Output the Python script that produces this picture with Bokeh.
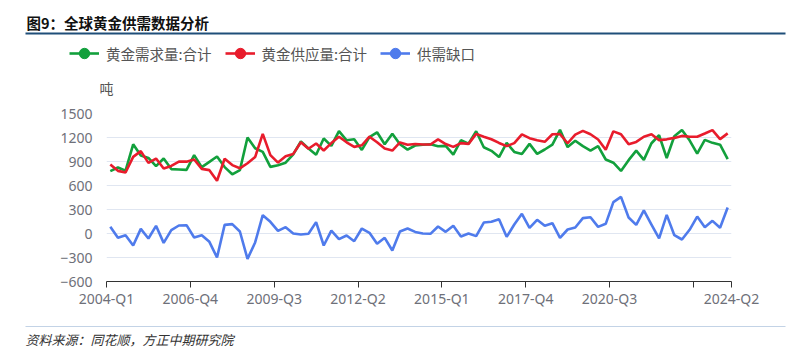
from bokeh.plotting import figure
from bokeh.layouts import column
from bokeh.models import (Range1d, FixedTicker, Label, Legend, LegendItem,
                          BoxAnnotation, ColumnDataSource)
from bokeh.embed import file_html
from bokeh.resources import INLINE

# ---------------- data ----------------
quarters = [f"{y}-Q{q}" for y in range(2004, 2025) for q in range(1, 5)][:82]

demand = [780, 825, 785, 1115, 975, 945, 842, 937, 805, 800,
          795, 980, 830, 896, 962, 830, 740, 792, 1200, 1065,
          1020, 833, 854, 885, 990, 1150, 1062, 985, 1187, 1095,
          1280, 1165, 1178, 1045, 1205, 1265, 1115, 1248, 1115, 1048,
          1100, 1110, 1115, 1090, 1095, 987, 1165, 1122, 1278, 1078,
          1033, 955, 1133, 1020, 994, 1120, 995, 1050, 1110, 1295,
          1080, 1160, 1092, 1036, 1092, 925, 885, 782, 917, 1036,
          920, 1128, 1228, 944, 1215, 1295, 1165, 998, 1170, 1133,
          1110, 930]

supply = [862, 783, 762, 958, 1030, 883, 937, 812, 845, 898,
          898, 925, 808, 792, 660, 935, 855, 815, 878, 955,
          1245, 980, 886, 965, 995, 1140, 1060, 1125, 1037, 1130,
          1210, 1140, 1083, 1103, 1210, 1140, 1062, 1036, 1138, 1110,
          1118, 1112, 1112, 1176, 1118, 1083, 1130, 1120, 1245, 1210,
          1178, 1132, 1092, 1130, 1240, 1192, 1165, 1146, 1240, 1242,
          1128, 1235, 1283, 1240, 1175, 1048, 1277, 1240, 1117, 1145,
          1210, 1240, 1167, 1177, 1195, 1220, 1210, 1210, 1250, 1292,
          1180, 1252]

gap = [83, -54, -21, -150, 58, -62, 96, -117, 42, 100,
       104, -50, -21, -104, -300, 108, 117, 25, -317, -112,
       229, 146, 33, 79, 0, -12, -4, 142, -150, 37,
       -71, -25, -96, 62, 8, -129, -54, -212, 25, 62,
       20, 0, -4, 88, 21, 96, -37, 0, -33, 137,
       146, 179, -42, 112, 246, 71, 171, 96, 129, -54,
       50, 75, 192, 204, 83, 121, 392, 458, 200, 108,
       288, 112, -62, 233, -21, -75, 46, 212, 79, 158,
       71, 325]

series_names = ["黄金需求量:合计", "黄金供应量:合计", "供需缺口"]
tick_labels = ["2004-Q1", "2006-Q4", "2009-Q3", "2012-Q2", "2015-Q1",
               "2017-Q4", "2020-Q3", "", "2024-Q2"]
y_ticks = [-600, -300, 0, 300, 600, 900, 1200, 1500]

# ---------------- styling ----------------
colors = ["#12a03c", "#e81c2c", "#4f7bec"]
tick_pos = [-0.5, 10.5, 21.5, 32.5, 43.5, 54.5, 65.5, 76.5, 81.5]
FONT = "Noto Sans CJK SC"
NUM_FONT = "Noto Sans"
AX_COL = "#6e7079"

W = 795
HDR_H = 100
LB, RB, TB, BB = 106, 64, 13, 32
FRAME_H = 168
MAIN_H = TB + FRAME_H + BB
FTR_H = 40

src = ColumnDataSource(dict(x=list(range(len(quarters))), q=quarters,
                            demand=demand, supply=supply, gap=gap))
keys = ["demand", "supply", "gap"]


def blank(h):
    f = figure(width=W, height=h, output_backend="svg", toolbar_location=None,
               x_range=Range1d(0, W), y_range=Range1d(h, 0),
               x_axis_type=None, y_axis_type=None, min_border=0,
               frame_align=False)
    f.grid.visible = False
    f.outline_line_color = None
    f.background_fill_color = "white"
    f.border_fill_color = "white"
    return f


# ---------------- header: title, rule, legend, unit ----------------
hdr = blank(HDR_H)
hdr.add_layout(Label(x=26, y=22, text="图9：全球黄金供需数据分析", text_font=FONT,
                     text_font_size="14.5px", text_font_style="bold",
                     text_color="#111111", text_baseline="middle"))
hdr.add_layout(BoxAnnotation(left=25, right=785, top=32, bottom=34,
                             fill_color="#1f4e79", fill_alpha=1, line_color=None))
hdr.add_layout(Label(x=99, y=87, text="吨", text_font=FONT, text_font_size="14px",
                     text_color="#555555", text_baseline="middle"))

# legend renderers: same series on an off-screen range of the header (nothing drawn)
hdr.extra_y_ranges = {"off": Range1d(100000, 200000)}
items = []
for n, k, c in zip(series_names, keys, colors):
    lr = hdr.line("x", k, source=src, line_color=c, line_width=2.6, y_range_name="off")
    sr = hdr.scatter("x", k, source=src, size=11, fill_color=c, line_color=c,
                     y_range_name="off")
    items.append(LegendItem(label=n, renderers=[lr, sr]))
legend = Legend(items=items, orientation="horizontal", location=(69, HDR_H - 66),
                glyph_width=30, glyph_height=26, label_standoff=7, spacing=13,
                padding=0, margin=0, border_line_color=None,
                background_fill_alpha=0,
                label_text_font=FONT, label_text_font_size="14.5px",
                label_text_color="#555555")
hdr.add_layout(legend, "center")

# ---------------- main chart ----------------
p = figure(width=W, height=MAIN_H, output_backend="svg", toolbar_location=None,
           x_range=Range1d(-0.5, 81.5), y_range=Range1d(-600, 1500),
           min_border_left=LB, min_border_right=RB,
           min_border_top=TB, min_border_bottom=BB, frame_align=False)
p.outline_line_color = None
p.background_fill_color = "white"
p.border_fill_color = "white"

for k, c in zip(keys, colors):
    p.line("x", k, source=src, line_color=c, line_width=2.6)

xa = p.xaxis[0]
xa.ticker = FixedTicker(ticks=tick_pos)
xa.major_label_overrides = {t: l for t, l in zip(tick_pos, tick_labels)}
xa.axis_line_color = "#333333"
xa.axis_line_width = 1.2
xa.major_tick_line_color = "#333333"
xa.major_tick_out = 6
xa.major_tick_in = 0
xa.minor_tick_line_color = None
xa.major_label_text_font = NUM_FONT
xa.major_label_text_font_size = "14px"
xa.major_label_text_color = AX_COL
xa.major_label_standoff = 1

ya = p.yaxis[0]
ya.ticker = FixedTicker(ticks=y_ticks)
ya.axis_line_color = None
ya.major_tick_line_color = None
ya.minor_tick_line_color = None
ya.major_label_text_font = NUM_FONT
ya.major_label_text_font_size = "14px"
ya.major_label_text_color = AX_COL
ya.major_label_standoff = 8

p.xgrid.grid_line_color = None
p.ygrid.grid_line_color = "#e0e6f1"
p.ygrid.grid_line_width = 1

# ---------------- footer: rule + source ----------------
ftr = blank(FTR_H)
ftr.add_layout(BoxAnnotation(left=25, right=785, top=12.5, bottom=13.5,
                             fill_color="#c3d3e6", fill_alpha=1, line_color=None))
ftr.add_layout(Label(x=25, y=26, text="资料来源：同花顺，方正中期研究院", text_font=FONT,
                     text_font_size="13px", text_font_style="italic",
                     text_color="#333333", text_baseline="middle"))

layout = column(hdr, p, ftr, spacing=0)
open("out.html", "w").write(file_html(layout, INLINE))
